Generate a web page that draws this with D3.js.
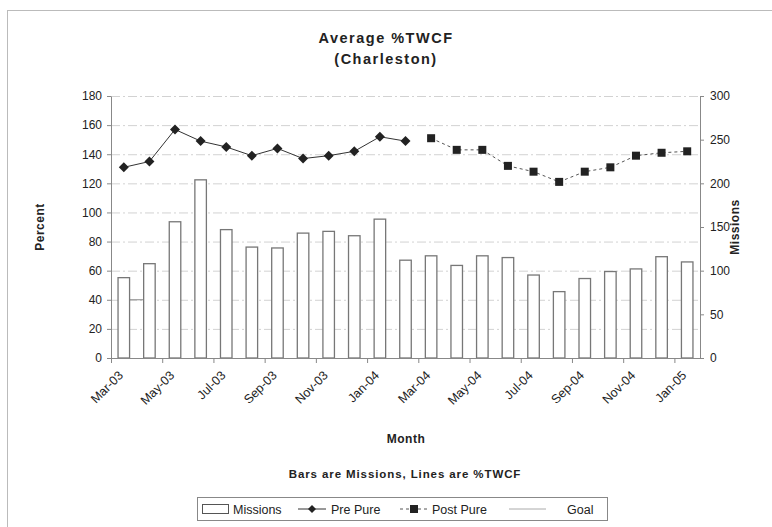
<!DOCTYPE html>
<html>
<head>
<meta charset="utf-8">
<script src="https://cdn.jsdelivr.net/npm/d3@7"></script>
<style>
  body { margin: 0; background: #fff; }
  text { font-family: "Liberation Sans", Arial, sans-serif; fill: #222; }
</style>
</head>
<body>
<div id="chart"></div>
<script>
// Chart data
const months = ["Mar-03","Apr-03","May-03","Jun-03","Jul-03","Aug-03","Sep-03","Oct-03","Nov-03","Dec-03",
  "Jan-04","Feb-04","Mar-04","Apr-04","May-04","Jun-04","Jul-04","Aug-04","Sep-04","Oct-04","Nov-04","Dec-04","Jan-05"];
const missions = [92,108,156,204,147,127,126,143,145,140,159,112,117,106,117,115,95,76,91,99,102,116,110];
const prePure = [131,135,157,149,145,139,144,137,139,142,152,149,null,null,null,null,null,null,null,null,null,null,null];
const postPure = [null,null,null,null,null,null,null,null,null,null,null,null,151,143,143,132,128,121,128,131,139,141,142];
const goal = [40,40,null,null,null,null,null,null,null,null,null,null,null,null,null,null,null,null,null,null,null,null,null];
const percentTicks = [0,20,40,60,80,100,120,140,160,180];
const missionTicks = [0,50,100,150,200,250,300];

const W = 772, H = 527;
const plot = { left: 111, right: 700, top: 96, bottom: 358 };

const svg = d3.select("#chart").append("svg")
  .attr("width", W)
  .attr("height", H);

// outer chart frame (partly off the page, like the picture)
svg.append("rect")
  .attr("x", 7.5).attr("y", 10.5)
  .attr("width", 800).attr("height", 600)
  .attr("fill", "none")
  .attr("stroke", "#bbb");

// scales
const x = d3.scaleBand()
  .domain(months)
  .range([plot.left, plot.right])
  .padding(0);

const yL = d3.scaleLinear().domain([0, 180]).range([plot.bottom, plot.top]);
const yR = d3.scaleLinear().domain([0, 300]).range([plot.bottom, plot.top]);

const barW = x.step() * 0.45;
const cx = d => x(d) + x.bandwidth() / 2;

// gridlines
svg.append("g")
  .selectAll("line")
  .data(percentTicks.filter(d => d > 0))
  .enter()
  .append("line")
  .attr("x1", plot.left).attr("x2", plot.right)
  .attr("y1", d => yL(d) + 0.5).attr("y2", d => yL(d) + 0.5)
  .attr("stroke", "#d2d2d2")
  .attr("stroke-dasharray", "9,3,2,3");

// goal line (drawn under the bars)
const lineL = d3.line()
  .defined(d => d.v != null)
  .x(d => cx(d.m))
  .y(d => yL(d.v));

svg.append("path")
  .datum(months.map((m, i) => ({ m, v: goal[i] })))
  .attr("fill", "none")
  .attr("stroke", "#888")
  .attr("stroke-width", 1)
  .attr("d", lineL);

// bars (missions, right axis)
svg.selectAll(".bar")
  .data(months.map((m, i) => ({ m, v: missions[i] })))
  .enter()
  .append("rect")
  .attr("class", "bar")
  .attr("x", d => cx(d.m) - barW / 2)
  .attr("y", d => yR(d.v))
  .attr("width", barW)
  .attr("height", d => plot.bottom - yR(d.v))
  .attr("fill", "#fff")
  .attr("stroke", "#777")
  .attr("stroke-width", 1.3);

// left axis
const axL = svg.append("g")
  .attr("transform", `translate(${plot.left},0)`)
  .call(d3.axisLeft(yL).tickValues(percentTicks).tickSize(4).tickPadding(5).tickSizeOuter(0));
axL.select(".domain").attr("stroke", "#888");
axL.selectAll(".tick line").attr("stroke", "#888");
axL.selectAll("text").style("font-size", "12px").attr("fill", "#333");

// right axis
const axR = svg.append("g")
  .attr("transform", `translate(${plot.right},0)`)
  .call(d3.axisRight(yR).tickValues(missionTicks).tickSize(4).tickPadding(6).tickSizeOuter(0));
axR.select(".domain").attr("stroke", "#888");
axR.selectAll(".tick line").attr("stroke", "#888");
axR.selectAll("text").style("font-size", "12px").attr("fill", "#333");

// bottom axis: labels every other month
const axB = svg.append("g")
  .attr("transform", `translate(0,${plot.bottom})`)
  .call(d3.axisBottom(x).tickValues(months.filter((m, i) => i % 2 === 0)).tickSize(0).tickSizeOuter(0));
axB.select(".domain").attr("stroke", "#888");
axB.selectAll("text")
  .attr("x", 0).attr("y", 0)
  .attr("dy", "0.35em")
  .attr("transform", "translate(-3,15) rotate(-45)")
  .style("text-anchor", "end")
  .style("font-size", "12.5px")
  .attr("fill", "#333");

// tick marks at every second category boundary
svg.append("g")
  .selectAll("line")
  .data(d3.range(0, months.length + 1, 2))
  .enter()
  .append("line")
  .attr("x1", k => plot.left + k * x.step() + 0.5)
  .attr("x2", k => plot.left + k * x.step() + 0.5)
  .attr("y1", plot.bottom)
  .attr("y2", plot.bottom + 5)
  .attr("stroke", "#888");

// pre pure line
svg.append("path")
  .datum(months.map((m, i) => ({ m, v: prePure[i] })))
  .attr("fill", "none")
  .attr("stroke", "#333")
  .attr("stroke-width", 1)
  .attr("d", lineL);

svg.selectAll(".pre")
  .data(months.map((m, i) => ({ m, v: prePure[i] })).filter(d => d.v != null))
  .enter()
  .append("path")
  .attr("class", "pre")
  .attr("transform", d => `translate(${cx(d.m)},${yL(d.v)})`)
  .attr("d", "M0,-5L5,0L0,5L-5,0Z")
  .attr("fill", "#222");

// post pure line
svg.append("path")
  .datum(months.map((m, i) => ({ m, v: postPure[i] })))
  .attr("fill", "none")
  .attr("stroke", "#555")
  .attr("stroke-width", 1)
  .attr("stroke-dasharray", "3,3")
  .attr("d", lineL);

svg.selectAll(".post")
  .data(months.map((m, i) => ({ m, v: postPure[i] })).filter(d => d.v != null))
  .enter()
  .append("rect")
  .attr("class", "post")
  .attr("x", d => cx(d.m) - 4)
  .attr("y", d => yL(d.v) - 4)
  .attr("width", 8)
  .attr("height", 8)
  .attr("fill", "#222");

// titles
svg.append("text")
  .attr("x", 386).attr("y", 43)
  .attr("text-anchor", "middle")
  .style("font-size", "14.5px").style("font-weight", "bold").style("letter-spacing", "1.5px")
  .text("Average %TWCF");
svg.append("text")
  .attr("x", 386).attr("y", 64)
  .attr("text-anchor", "middle")
  .style("font-size", "14.5px").style("font-weight", "bold").style("letter-spacing", "1.5px")
  .text("(Charleston)");

svg.append("text")
  .attr("transform", "translate(44,227) rotate(-90)")
  .attr("text-anchor", "middle")
  .style("font-size", "12px").style("font-weight", "bold").style("letter-spacing", "0.5px")
  .text("Percent");

svg.append("text")
  .attr("transform", "translate(739,227) rotate(-90)")
  .attr("text-anchor", "middle")
  .style("font-size", "12px").style("font-weight", "bold").style("letter-spacing", "0.5px")
  .text("Missions");

svg.append("text")
  .attr("x", 406).attr("y", 443)
  .attr("text-anchor", "middle")
  .style("font-size", "12px").style("font-weight", "bold").style("letter-spacing", "0.5px")
  .text("Month");

svg.append("text")
  .attr("x", 405).attr("y", 478)
  .attr("text-anchor", "middle")
  .style("font-size", "11.5px").style("font-weight", "bold").style("letter-spacing", "0.9px")
  .text("Bars are Missions, Lines are %TWCF");

// legend
const lg = svg.append("g");
lg.append("rect")
  .attr("x", 197.5).attr("y", 497.5)
  .attr("width", 410).attr("height", 23)
  .attr("fill", "#fff").attr("stroke", "#888");

lg.append("rect")
  .attr("x", 202.5).attr("y", 504.5).attr("width", 26).attr("height", 9)
  .attr("fill", "#fff").attr("stroke", "#555");
lg.append("text").attr("x", 233).attr("y", 514).style("font-size", "12.5px").text("Missions");

lg.append("line").attr("x1", 298).attr("x2", 326).attr("y1", 509).attr("y2", 509).attr("stroke", "#333");
lg.append("path").attr("transform", "translate(312,509)").attr("d", "M0,-4L4,0L0,4L-4,0Z").attr("fill", "#222");
lg.append("text").attr("x", 331).attr("y", 514).style("font-size", "12.5px").text("Pre Pure");

lg.append("line").attr("x1", 400).attr("x2", 428).attr("y1", 509).attr("y2", 509)
  .attr("stroke", "#555").attr("stroke-dasharray", "3,3");
lg.append("rect").attr("x", 410).attr("y", 505).attr("width", 8).attr("height", 8).attr("fill", "#222");
lg.append("text").attr("x", 432).attr("y", 514).style("font-size", "12.5px").text("Post Pure");

lg.append("line").attr("x1", 509).attr("x2", 546).attr("y1", 509).attr("y2", 509).attr("stroke", "#aaa");
lg.append("text").attr("x", 567).attr("y", 514).style("font-size", "12.5px").text("Goal");
</script>
</body>
</html>
